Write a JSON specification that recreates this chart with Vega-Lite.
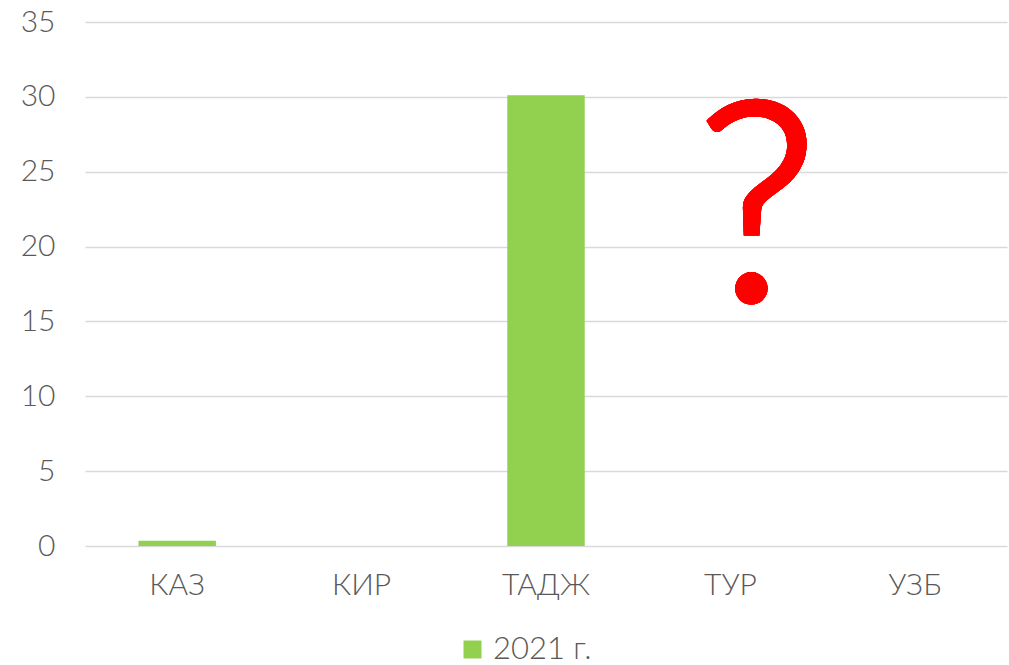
{
  "$schema": "https://vega.github.io/schema/vega-lite/v6.json",
  "autosize": "none",
  "width": 922,
  "height": 524,
  "padding": {"left": 85, "top": 22, "right": 2, "bottom": 119},
  "background": "white",
  "config": {"view": {"stroke": null}, "font": "Lato"},
  "data": {"values": [
    {"country": "КАЗ", "year": "2021 г.", "value": 0.35},
    {"country": "КИР", "year": "2021 г.", "value": 0},
    {"country": "ТАДЖ", "year": "2021 г.", "value": 30.1},
    {"country": "ТУР", "year": "2021 г.", "value": 0},
    {"country": "УЗБ", "year": "2021 г.", "value": 0}
  ]},
  "layer": [
    {
      "mark": {"type": "bar"},
      "encoding": {
        "x": {"field": "country", "type": "nominal", "sort": null,
          "scale": {"paddingInner": 0.58, "paddingOuter": 0.29},
          "axis": {"title": null, "labelAngle": 0, "labelFontSize": 30, "labelColor": "#595959", "labelFont": "Lato", "labelFontWeight": 300, "labelPadding": 24, "domain": false, "ticks": false}},
        "y": {"field": "value", "type": "quantitative",
          "scale": {"domain": [0, 35], "nice": false},
          "axis": {"title": null, "values": [0, 5, 10, 15, 20, 25, 30, 35], "labelFontSize": 30, "labelColor": "#595959", "labelFont": "Lato", "labelFontWeight": 300, "labelPadding": 30, "domain": false, "ticks": false, "gridColor": "#d9d9d9", "gridWidth": 1.5}},
        "color": {"field": "year", "type": "nominal",
          "scale": {"range": ["#92D050"]},
          "legend": {"title": null, "orient": "none", "legendX": 372, "legendY": 612, "symbolType": "square", "symbolSize": 324, "symbolStrokeWidth": 0, "labelFontSize": 31, "labelColor": "#595959", "labelFont": "Lato", "labelFontWeight": 300, "labelOffset": 5}}
      }
    },
    {
      "mark": {"type": "text", "color": "#FF0000", "stroke": "#FF0000", "strokeWidth": 7, "fontSize": 275, "font": "Lato", "fontWeight": 300, "baseline": "alphabetic", "align": "center", "dx": 27},
      "encoding": {
        "x": {"datum": "ТУР"},
        "y": {"datum": 16.5},
        "text": {"value": "?"}
      }
    }
  ]
}
